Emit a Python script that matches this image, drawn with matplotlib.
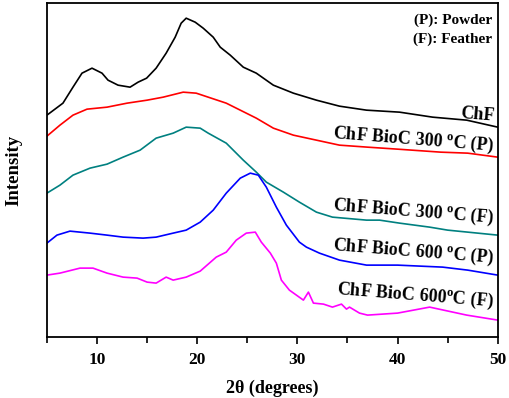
import numpy as np
import matplotlib
matplotlib.use("Agg")
import matplotlib.pyplot as plt

plt.rcParams['font.family'] = ['Liberation Serif', 'DejaVu Serif']
plt.rcParams['font.weight'] = 'bold'
plt.rcParams['mathtext.fontset'] = 'custom'
plt.rcParams['mathtext.rm'] = 'Liberation Serif:bold'
plt.rcParams['mathtext.bf'] = 'Liberation Serif:bold'

# XRD patterns (2theta in degrees, intensity in a.u., stacked)
tt_chf = [5, 6.6, 7.6, 8.5, 9.5, 10.5, 11.1, 12.1, 13.3, 14.1, 14.95, 15.9, 16.9, 17.8, 18.4,
          18.9, 19.8, 20.6, 21.6, 22.3, 23.3, 24.6, 25.9, 27.6, 29.6, 31.9, 34.2, 36.9, 40.2,
          43.5, 46.9, 50]
i_chf = [222, 234, 250, 264, 269, 264, 257, 252, 250, 255, 259, 269, 284, 300, 314,
         319, 315, 309, 300, 290, 282, 270, 264, 252, 244, 237, 231, 227, 225,
         220, 217, 210]

tt_300p = [5, 6.3, 7.6, 9, 11, 13, 15, 16.6, 18.6, 19.9, 21.1, 22.9, 24.3, 25.9, 27.6, 29.6,
           31.9, 34.2, 37, 40, 44.3, 47, 50]
i_300p = [201, 212, 222, 228, 230, 234, 237, 240, 245, 244, 240, 234, 227, 219, 209, 202,
          197, 192, 190, 188, 185, 184, 180]

tt_300f = [5, 6.3, 7.6, 9.3, 11, 12.6, 14.3, 15.9, 17.6, 18.9, 20.3, 21.1, 22.9, 24.6, 25.9,
           26.9, 28.6, 30.2, 31.9, 33.5, 36.9, 38.2, 40.2, 43.2, 45, 50]
i_300f = [144, 152, 162, 169, 173, 180, 187, 199, 204, 210, 209, 204, 194, 177, 165,
          155, 145, 135, 125, 120, 117, 117, 114, 110, 107, 102]

tt_600p = [5, 6, 7.3, 9.3, 11, 12.6, 14.6, 15.9, 17.6, 18.9, 20.3, 21.6, 22.9, 24.3, 25.3,
           26.1, 26.9, 27.9, 28.9, 30.2, 30.9, 32.2, 34.2, 36.9, 40, 44.5, 47, 50]
i_600p = [94, 102, 106, 104, 102, 100, 99, 100, 104, 107, 115, 127, 144, 159, 164,
          162, 150, 130, 112, 95, 90, 84, 77, 72, 72, 70, 67, 62]

tt_600f = [5, 6.3, 8.3, 9.6, 11, 12.6, 14, 15, 15.9, 16.9, 17.6, 18.9, 20.3, 21.9, 22.9,
           23.9, 24.9, 25.8, 26.4, 27.3, 27.9, 28.4, 29.2, 30.6, 31.1, 31.6, 32.6, 33.5,
           34.4, 34.9, 35.2, 36.2, 37, 40, 43.2, 46.9, 50]
i_600f = [62, 64, 69, 69, 64, 60, 59, 55, 54, 60, 57, 60, 66, 80, 85,
          97, 104, 105, 95, 84, 74, 57, 47, 37, 45, 34, 33, 30,
          33, 28, 30, 24, 22, 24, 30, 22, 17]

series = [
    (tt_chf, i_chf, 'black', 'ChF', 221),
    (tt_300p, i_300p, 'red', r'ChF BioC 300 $^{\rm o}$C (P)', 191),
    (tt_300f, i_300f, '#008080', r'ChF BioC 300 $^{\rm o}$C (F)', 119),
    (tt_600p, i_600p, 'blue', r'ChF BioC 600 $^{\rm o}$C (P)', 79),
    (tt_600f, i_600f, '#ff00ff', r'ChF BioC 600$^{\rm o}$C (F)', 35),
]

fig = plt.figure(figsize=(5.1, 3.98), dpi=100)
ax = fig.add_axes([0.092, 0.153, 0.884, 0.839])

for tt, inten, col, lab, ly in series:
    ax.plot(tt, inten, color=col, lw=1.2)
    ax.text(49.65, ly, lab, ha='right', va='center', rotation=-4.5,
            rotation_mode='anchor', fontsize=13, fontweight='bold')

ax.text(0.987, 0.949, '(P): Powder', transform=ax.transAxes, ha='right', va='center',
        fontsize=11, fontweight='bold')
ax.text(0.987, 0.892, '(F): Feather', transform=ax.transAxes, ha='right', va='center',
        fontsize=11, fontweight='bold')

ax.set_xlim(5, 50)
ax.set_ylim(0, 334)
ax.set_xticks([10, 20, 30, 40, 50])
ax.set_xticks([5, 15, 25, 35, 45], minor=True)
ax.set_yticks([])
ax.tick_params(axis='x', which='major', direction='out', length=5, width=1.2,
               labelsize=12.5, pad=6)
ax.tick_params(axis='x', which='minor', direction='out', length=4, width=1.2)
for lbl in ax.get_xticklabels():
    lbl.set_fontweight('bold')
for sp in ax.spines.values():
    sp.set_linewidth(1.3)

ax.set_xlabel('2θ (degrees)', fontsize=13, fontweight='bold', labelpad=8)
ax.set_ylabel('Intensity', fontsize=13.5, fontweight='bold', labelpad=18)

fig.savefig('out.png', dpi=100)
